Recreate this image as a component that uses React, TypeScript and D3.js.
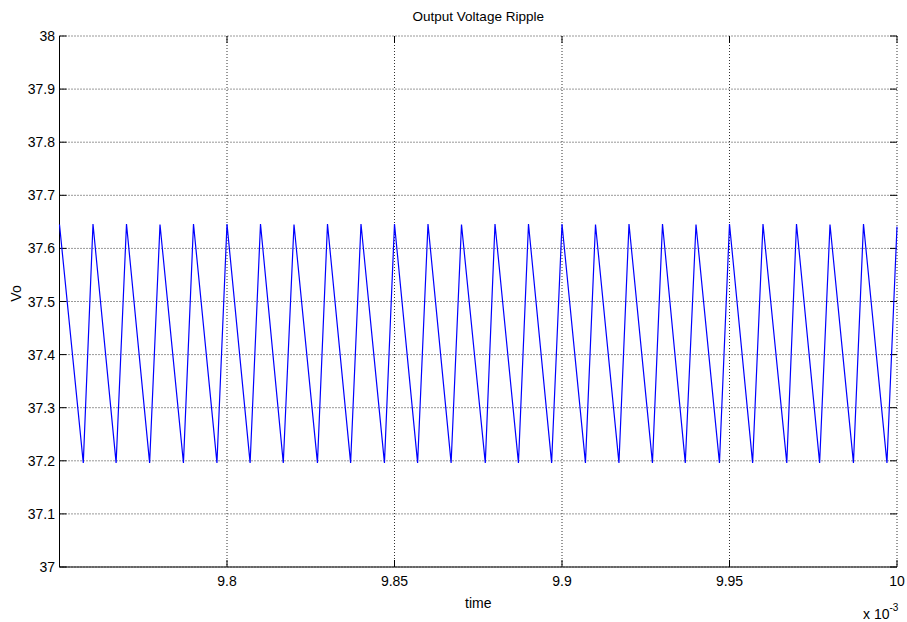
import React from "react";
import * as d3 from "d3";

// Switching ripple of the converter output: local maxima and minima of Vo.
// Times are in units of 1e-3 s.
const peakTimes = [
  9.75, 9.76, 9.77, 9.78, 9.79, 9.8, 9.81, 9.82, 9.83, 9.84, 9.85, 9.86, 9.87,
  9.88, 9.89, 9.9, 9.91, 9.92, 9.93, 9.94, 9.95, 9.96, 9.97, 9.98, 9.99, 10.0,
];
const peakValues = [
  37.645, 37.646, 37.646, 37.645, 37.646, 37.646, 37.646, 37.645, 37.646,
  37.646, 37.646, 37.646, 37.645, 37.646, 37.646, 37.646, 37.645, 37.646,
  37.646, 37.645, 37.646, 37.646, 37.646, 37.645, 37.646, 37.641,
];
const troughTimes = [
  9.7571, 9.7669, 9.7769, 9.787, 9.797, 9.8069, 9.8168, 9.827, 9.8369, 9.847,
  9.8569, 9.8669, 9.8771, 9.887, 9.8969, 9.907, 9.917, 9.927, 9.9368, 9.947,
  9.9569, 9.9671, 9.9769, 9.987, 9.997,
];
const troughValues = [
  37.196, 37.196, 37.196, 37.196, 37.196, 37.196, 37.196, 37.196, 37.196,
  37.196, 37.196, 37.196, 37.196, 37.196, 37.196, 37.196, 37.196, 37.196,
  37.196, 37.196, 37.196, 37.196, 37.196, 37.196, 37.196,
];

const xTicks = [9.75, 9.8, 9.85, 9.9, 9.95, 10];
const xTickLabels = ["", "9.8", "9.85", "9.9", "9.95", "10"];
const yTicks = [37, 37.1, 37.2, 37.3, 37.4, 37.5, 37.6, 37.7, 37.8, 37.9, 38];
const yTickLabels = ["37", "37.1", "37.2", "37.3", "37.4", "37.5", "37.6", "37.7", "37.8", "37.9", "38"];

const W = 907;
const H = 622;
const left = 59.5;
const right = 897;
const top = 36;
const bottom = 567;
const FONT = "'Liberation Sans', Arial, sans-serif";

export default function App() {
  const x = d3.scaleLinear().domain([9.75, 10]).range([left, right]);
  const y = d3.scaleLinear().domain([37, 38]).range([bottom, top]);

  const pts: [number, number][] = [];
  peakTimes.forEach((t, i) => {
    pts.push([t, peakValues[i]]);
    if (i < troughTimes.length) pts.push([troughTimes[i], troughValues[i]]);
  });

  const line = d3
    .line<[number, number]>()
    .x((d) => x(d[0]))
    .y((d) => y(d[1]));

  const tickLen = 7;
  const gridStyle = { stroke: "#333", strokeWidth: 1, strokeDasharray: "1 2" };

  return (
    <div style={{ position: "absolute", left: 0, top: 0 }}>
      <svg width={W} height={H} style={{ display: "block", background: "#fff" }}>
        {/* grid */}
        {xTicks.map((t) => (
          <line key={"gx" + t} x1={x(t)} x2={x(t)} y1={top} y2={bottom} style={gridStyle} />
        ))}
        {yTicks.map((t) => (
          <line key={"gy" + t} x1={left} x2={right} y1={y(t)} y2={y(t)} style={gridStyle} />
        ))}

        {/* axis lines */}
        <line x1={left} x2={left} y1={top} y2={bottom} stroke="#000" strokeWidth={1} />
        <line x1={left} x2={right} y1={bottom} y2={bottom} stroke="#000" strokeWidth={1} />

        {/* inner ticks on all four sides */}
        {xTicks.map((t) => (
          <g key={"tx" + t}>
            <line x1={x(t)} x2={x(t)} y1={bottom} y2={bottom - tickLen} stroke="#000" />
            <line x1={x(t)} x2={x(t)} y1={top} y2={top + tickLen} stroke="#000" />
          </g>
        ))}
        {yTicks.map((t) => (
          <g key={"ty" + t}>
            <line x1={left} x2={left + tickLen} y1={y(t)} y2={y(t)} stroke="#000" />
            <line x1={right} x2={right - tickLen} y1={y(t)} y2={y(t)} stroke="#000" />
          </g>
        ))}

        {/* data */}
        <path d={line(pts) ?? ""} fill="none" stroke="#0000ff" strokeWidth={1.2} />

        {/* tick labels */}
        {xTicks.map((t, i) => (
          <text
            key={"lx" + t}
            x={x(t)}
            y={586}
            textAnchor="middle"
            fontFamily={FONT}
            fontSize={14}
            fill="#000"
          >
            {xTickLabels[i]}
          </text>
        ))}
        {yTicks.map((t, i) => (
          <text
            key={"ly" + t}
            x={55}
            y={y(t) + 5}
            textAnchor="end"
            fontFamily={FONT}
            fontSize={14}
            fill="#000"
          >
            {yTickLabels[i]}
          </text>
        ))}

        {/* title and axis labels */}
        <text x={(left + right) / 2} y={21} textAnchor="middle" fontFamily={FONT} fontSize={13.5} fill="#000">
          Output Voltage Ripple
        </text>
        <text x={(left + right) / 2} y={608} textAnchor="middle" fontFamily={FONT} fontSize={14} fill="#000">
          time
        </text>
        <text
          transform={`translate(21, ${(top + bottom) / 2 - 8}) rotate(-90)`}
          textAnchor="middle"
          fontFamily={FONT}
          fontSize={14}
          fill="#000"
        >
          Vo
        </text>
        <text x={863} y={619} fontFamily={FONT} fontSize={14} fill="#000">
          x 10
          <tspan dy={-8} fontSize={10}>
            -3
          </tspan>
        </text>
      </svg>
    </div>
  );
}
